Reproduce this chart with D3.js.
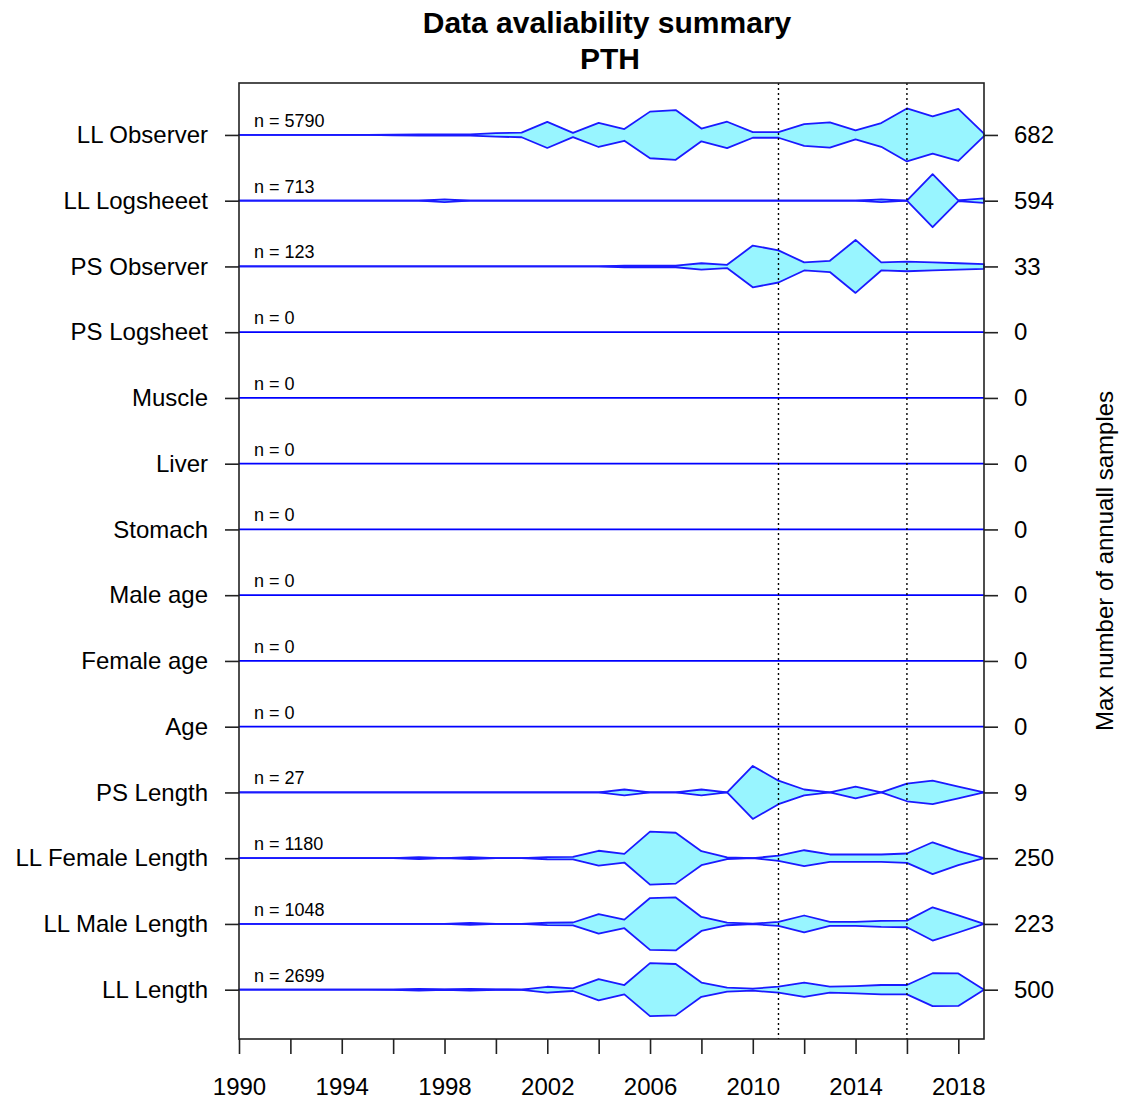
<!DOCTYPE html>
<html>
<head>
<meta charset="utf-8">
<script src="https://cdn.jsdelivr.net/npm/d3@7"></script>
<style>
  body { margin: 0; background: #fff; }
  text { font-family: "Liberation Sans", Arial, sans-serif; fill: #000; }
</style>
</head>
<body>
<div id="chart"></div>
<script>
// years 1990 .. 2019
const years = [1990, 1991, 1992, 1993, 1994, 1995, 1996, 1997, 1998, 1999,
               2000, 2001, 2002, 2003, 2004, 2005, 2006, 2007, 2008, 2009,
               2010, 2011, 2012, 2013, 2014, 2015, 2016, 2017, 2018, 2019]

const categories = ['LL Observer', 'LL Logsheeet', 'PS Observer', 'PS Logsheet', 'Muscle',
                    'Liver', 'Stomach', 'Male age', 'Female age', 'Age',
                    'PS Length', 'LL Female Length', 'LL Male Length', 'LL Length']

const llObserver  = [0,0,0,0,0,0, 8,15,16,17, 45,60,335,55, 310,150,600,640, 165,340,72,72, 280,325,115,305, 682,480,670,33]
const llLogsheet  = [0,0,0,0,0,0, 0,0,30,0, 0,0,0,0, 0,0,0,0, 0,0,0,0, 0,0,0,30, 0,594,9,50]
const psObserver  = [0,0,0,0,0,0, 0,0,0,0, 0,0,0,0, 0,1,1,1, 4,2,26,20, 5,7,33,5, 6,5,4,3]
const psLogsheet  = [0,0,0,0,0,0, 0,0,0,0, 0,0,0,0, 0,0,0,0, 0,0,0,0, 0,0,0,0, 0,0,0,0]
const muscle      = [0,0,0,0,0,0, 0,0,0,0, 0,0,0,0, 0,0,0,0, 0,0,0,0, 0,0,0,0, 0,0,0,0]
const liver       = [0,0,0,0,0,0, 0,0,0,0, 0,0,0,0, 0,0,0,0, 0,0,0,0, 0,0,0,0, 0,0,0,0]
const stomach     = [0,0,0,0,0,0, 0,0,0,0, 0,0,0,0, 0,0,0,0, 0,0,0,0, 0,0,0,0, 0,0,0,0]
const maleAge     = [0,0,0,0,0,0, 0,0,0,0, 0,0,0,0, 0,0,0,0, 0,0,0,0, 0,0,0,0, 0,0,0,0]
const femaleAge   = [0,0,0,0,0,0, 0,0,0,0, 0,0,0,0, 0,0,0,0, 0,0,0,0, 0,0,0,0, 0,0,0,0]
const age         = [0,0,0,0,0,0, 0,0,0,0, 0,0,0,0, 0,0,0,0, 0,0,0,0, 0,0,0,0, 0,0,0,0]
const psLength    = [0,0,0,0,0,0, 0,0,0,0, 0,0,0,0, 0,1,0,0, 1,0,9,4, 1,0,2,0, 3,4,2,0]
const llFemaleLen = [0,0,0,0,0,0, 0,9,0,9, 0,0,10,12, 70,41,250,240, 66,8,0,25, 75,35,35,35, 44,150,66,0]
const llMaleLen   = [0,0,0,0,0,0, 0,0,0,8, 0,0,10,12, 82,36,218,223, 59,11,2,17, 71,17,17,25, 28,140,72,0]
const llLength    = [0,0,0,0,0,0, 3,15,4,15, 4,3,55,25, 200,88,500,485, 135,38,19,57, 135,57,69,88, 88,310,306,0]

const series = [llObserver, llLogsheet, psObserver, psLogsheet, muscle, liver, stomach,
                maleAge, femaleAge, age, psLength, llFemaleLen, llMaleLen, llLength]

const xTicks = [1990, 1992, 1994, 1996, 1998, 2000, 2002, 2004, 2006, 2008, 2010, 2012, 2014, 2016, 2018]
const xLabels = [1990, 1994, 1998, 2002, 2006, 2010, 2014, 2018]
const markYears = [2011, 2016]

const W = 1123, H = 1099
const box = {left: 239, right: 984, top: 83, bottom: 1039}
const halfMax = 26.5

const svg = d3.select('#chart')
              .append('svg')
              .attr('width', W)
              .attr('height', H)

// Scales
const x = d3.scaleLinear()
            .domain([1990, 2019])
            .range([box.left, box.right])

const y = d3.scaleLinear()
            .domain([-0.79, 13.75])
            .range([box.top, box.bottom])

const rows = categories.map((c, i) => ({
    name: c,
    values: series[i],
    max: d3.max(series[i]),
    n: d3.sum(series[i]),
    y: y(i)
}))

// baselines
svg.append('g')
    .selectAll('line')
    .data(rows).enter()
    .append('line')
        .attr('x1', box.left)
        .attr('x2', box.right)
        .attr('y1', d => d.y)
        .attr('y2', d => d.y)
        .attr('stroke', '#0000ff')
        .attr('stroke-width', 1.7)

// violins
svg.append('g')
    .selectAll('path')
    .data(rows.filter(d => d.max > 0)).enter()
    .append('path')
        .attr('d', d => {
            const a = d3.area()
                        .x((v, j) => x(years[j]))
                        .y0(v => d.y + v / d.max * halfMax)
                        .y1(v => d.y - v / d.max * halfMax)
            return a(d.values)
        })
        .attr('fill', '#98f5ff')
        .attr('stroke', '#1a1aff')
        .attr('stroke-width', 1.8)
        .attr('stroke-linejoin', 'round')

// n labels
svg.append('g')
    .selectAll('text')
    .data(rows).enter()
    .append('text')
        .attr('x', 254)
        .attr('y', d => d.y - 8)
        .attr('font-size', 18)
        .text(d => `n = ${d.n}`)

// dotted verticals
svg.append('g')
    .selectAll('line')
    .data(markYears).enter()
    .append('line')
        .attr('x1', d => x(d))
        .attr('x2', d => x(d))
        .attr('y1', box.top)
        .attr('y2', box.bottom)
        .attr('stroke', '#000')
        .attr('stroke-width', 1.4)
        .attr('stroke-dasharray', '2,3')

// frame
svg.append('rect')
    .attr('x', box.left)
    .attr('y', box.top)
    .attr('width', box.right - box.left)
    .attr('height', box.bottom - box.top)
    .attr('fill', 'none')
    .attr('stroke', '#222')
    .attr('stroke-width', 1.6)

// Axes
const xAxis = d3.axisBottom(x)
                .tickValues(xTicks)
                .tickSize(15)
                .tickPadding(24)
                .tickFormat(d => xLabels.includes(d) ? d : '')

const yLeft = d3.axisLeft(y)
                .tickValues(d3.range(categories.length))
                .tickSize(14)
                .tickPadding(17)
                .tickFormat(i => categories[i])

const yRight = d3.axisRight(y)
                 .tickValues(d3.range(categories.length))
                 .tickSize(14)
                 .tickPadding(16)
                 .tickFormat(i => rows[i].max)

const styleAxis = sel => {
    sel.select('.domain').remove()
    sel.selectAll('line').attr('stroke', '#222').attr('stroke-width', 1.6)
    sel.selectAll('text')
        .attr('font-size', 24)
        .attr('font-family', '"Liberation Sans", Arial, sans-serif')
        .attr('fill', '#000')
}

svg.append('g')
    .attr('transform', `translate(0, ${box.bottom})`)
    .call(xAxis)
    .call(styleAxis)

svg.append('g')
    .attr('transform', `translate(${box.left}, 0)`)
    .call(yLeft)
    .call(styleAxis)

svg.append('g')
    .attr('transform', `translate(${box.right}, 0)`)
    .call(yRight)
    .call(styleAxis)

// titles
svg.append('text')
    .attr('x', 607)
    .attr('y', 33)
    .attr('text-anchor', 'middle')
    .attr('font-size', 30)
    .attr('font-weight', 'bold')
    .text('Data avaliability summary')

svg.append('text')
    .attr('x', 610)
    .attr('y', 69)
    .attr('text-anchor', 'middle')
    .attr('font-size', 30)
    .attr('font-weight', 'bold')
    .text('PTH')

svg.append('text')
    .attr('transform', `translate(1113, ${(box.top + box.bottom) / 2}) rotate(-90)`)
    .attr('text-anchor', 'middle')
    .attr('font-size', 24)
    .text('Max number of annuall samples')
</script>
</body>
</html>
